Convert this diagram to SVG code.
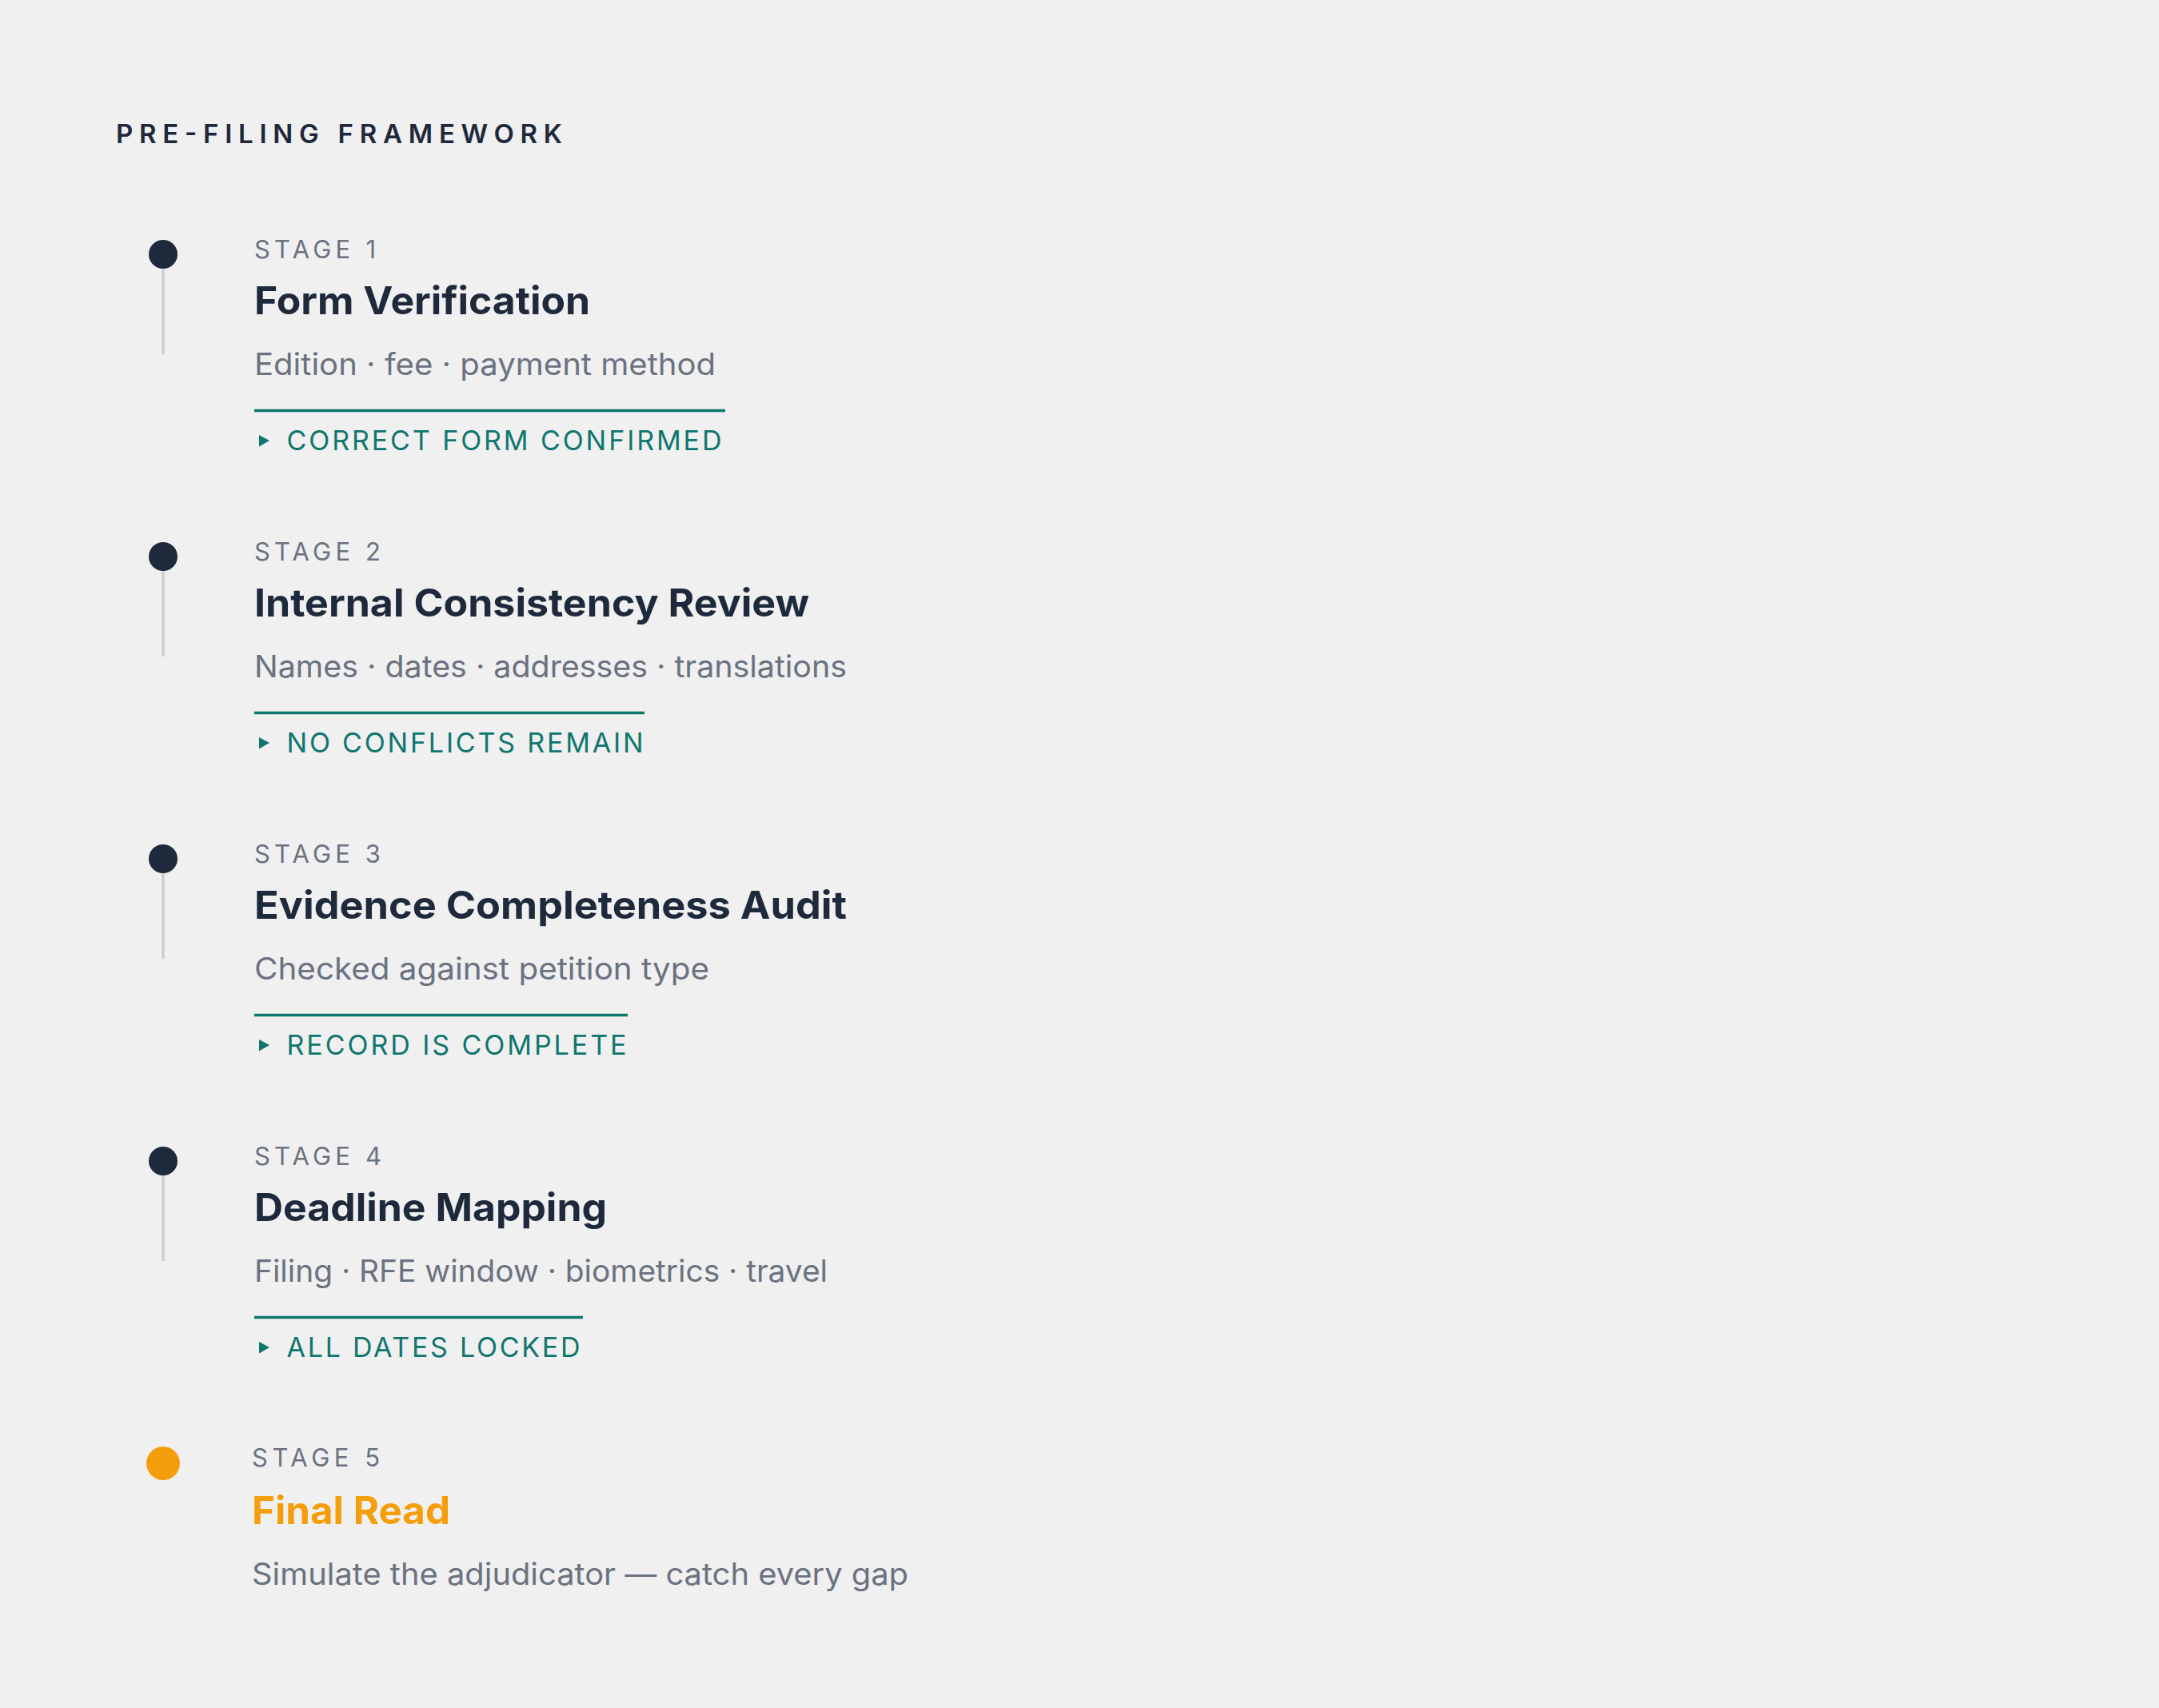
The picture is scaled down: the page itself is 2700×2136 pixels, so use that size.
<svg xmlns="http://www.w3.org/2000/svg" width="2700" height="2136" viewBox="0 0 2700 2136">
<style>
text{font-family:Inter,"DejaVu Sans",sans-serif}
.hdr{font-size:33px;font-weight:600;fill:#1e293b}
.stg{font-size:31px;font-weight:400;fill:#6b7280}
.ttl{font-size:48px;font-weight:700;fill:#1e293b}
.ttl5{font-size:48px;font-weight:700;fill:#f59e0b}
.sub{font-size:38px;font-weight:400;fill:#6b7280}
.out{font-size:34px;font-weight:400;fill:#0f766e}
.dot{fill:#1e293b}
.dot5{fill:#f59e0b}
.rail{stroke:#c8cbd0;stroke-width:3}
.rule{stroke:#0f766e;stroke-width:3.5}
.tri{fill:#0f766e}
</style>
<rect width="2700" height="2136" fill="#f0f0f0"/>
<text class="hdr" x="145" y="179" textLength="558" lengthAdjust="spacing">PRE-FILING FRAMEWORK</text>
<g id="connectors">
<line class="rail" x1="204" y1="336" x2="204" y2="443"/>
<line class="rail" x1="204" y1="714" x2="204" y2="821"/>
<line class="rail" x1="204" y1="1092" x2="204" y2="1199"/>
<line class="rail" x1="204" y1="1470" x2="204" y2="1577"/>
</g>
<g id="stage1">
<circle class="dot" cx="204" cy="318" r="18"/>
<text class="stg" x="318" y="322.5" textLength="152" lengthAdjust="spacing">STAGE 1</text>
<text class="ttl" x="318" y="393" textLength="420" lengthAdjust="spacingAndGlyphs">Form Verification</text>
<text class="sub" x="318" y="468.5" textLength="577" lengthAdjust="spacingAndGlyphs">Edition · fee · payment method</text>
<line class="rule" x1="318" y1="513.5" x2="907" y2="513.5"/>
<polygon class="tri" points="324,544 337,551 324,558.5"/>
<text class="out" x="358.5" y="563" textLength="544" lengthAdjust="spacing">CORRECT FORM CONFIRMED</text>
</g>
<g id="stage2">
<circle class="dot" cx="204" cy="696" r="18"/>
<text class="stg" x="318" y="700.5" textLength="158" lengthAdjust="spacing">STAGE 2</text>
<text class="ttl" x="318" y="771" textLength="694" lengthAdjust="spacingAndGlyphs">Internal Consistency Review</text>
<text class="sub" x="318" y="846.5" textLength="741" lengthAdjust="spacingAndGlyphs">Names · dates · addresses · translations</text>
<line class="rule" x1="318" y1="891.5" x2="806" y2="891.5"/>
<polygon class="tri" points="324,922 337,929 324,936.5"/>
<text class="out" x="358.5" y="941" textLength="446" lengthAdjust="spacing">NO CONFLICTS REMAIN</text>
</g>
<g id="stage3">
<circle class="dot" cx="204" cy="1074" r="18"/>
<text class="stg" x="318" y="1078.5" textLength="158" lengthAdjust="spacing">STAGE 3</text>
<text class="ttl" x="318" y="1149" textLength="741" lengthAdjust="spacingAndGlyphs">Evidence Completeness Audit</text>
<text class="sub" x="318" y="1224.5" textLength="569" lengthAdjust="spacingAndGlyphs">Checked against petition type</text>
<line class="rule" x1="318" y1="1269.5" x2="785" y2="1269.5"/>
<polygon class="tri" points="324,1300 337,1307 324,1314.5"/>
<text class="out" x="358.5" y="1319" textLength="425" lengthAdjust="spacing">RECORD IS COMPLETE</text>
</g>
<g id="stage4">
<circle class="dot" cx="204" cy="1452" r="18"/>
<text class="stg" x="318" y="1456.5" textLength="159" lengthAdjust="spacing">STAGE 4</text>
<text class="ttl" x="318" y="1527" textLength="441" lengthAdjust="spacingAndGlyphs">Deadline Mapping</text>
<text class="sub" x="318" y="1602.5" textLength="717" lengthAdjust="spacingAndGlyphs">Filing · RFE window · biometrics · travel</text>
<line class="rule" x1="318" y1="1647.5" x2="729" y2="1647.5"/>
<polygon class="tri" points="324,1678 337,1685 324,1692.5"/>
<text class="out" x="358.5" y="1697" textLength="367" lengthAdjust="spacing">ALL DATES LOCKED</text>
</g>
<g id="stage5">
<circle class="dot5" cx="204" cy="1830" r="21"/>
<text class="stg" x="315" y="1834" textLength="160" lengthAdjust="spacing">STAGE 5</text>
<text class="ttl5" x="315" y="1905.5" textLength="248" lengthAdjust="spacingAndGlyphs">Final Read</text>
<text class="sub" x="315" y="1981.5" textLength="821" lengthAdjust="spacingAndGlyphs">Simulate the adjudicator — catch every gap</text>
</g>
</svg>
